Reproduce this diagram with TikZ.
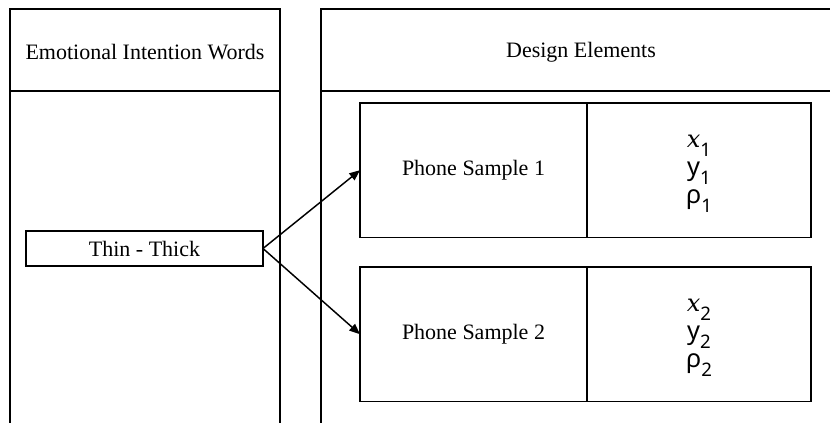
\documentclass[tikz,border=0pt]{standalone}
\usepackage{fontspec}
\setmainfont{Liberation Serif}
\newfontfamily\elemfont{Noto Sans}
\newfontfamily\elemitfont{DejaVu Serif Italic}
\usetikzlibrary{arrows.meta,positioning}

% lowered index after a design variable
\newcommand{\elemsub}[1]{\raisebox{-6.5pt}{\fontsize{14}{14}\selectfont\elemfont #1}}
% the three variables of one phone sample
\newcommand{\elemlist}[1]{\rule{0pt}{15pt}{\fontsize{18}{18}\selectfont\elemitfont x}\elemsub{#1}\\
  {\elemfont y}\elemsub{#1}\\
  {\elemfont ρ}\elemsub{#1}}

\begin{document}
\begin{tikzpicture}[x=0.75pt,y=0.75pt,yscale=-1,xscale=1,
  frame/.style={line width=1.1pt},
  txt/.style={inner sep=0pt,font=\fontsize{16.5}{20}\selectfont},
  wordbox/.style={draw,line width=1.1pt,inner sep=0pt,outer sep=0pt,
    minimum width=177.75pt,minimum height=26.25pt,font=\fontsize{16.5}{20}\selectfont},
  samplebox/.style={draw,line width=1.1pt,inner sep=0pt,outer sep=0pt,
    minimum width=170.25pt,minimum height=100.9pt,font=\fontsize{16.5}{20}\selectfont},
  elembox/.style={draw,line width=1.1pt,inner sep=0pt,outer sep=0pt,
    minimum width=168pt,minimum height=100.9pt,align=center,
    font=\fontsize{19}{21}\selectfont\elemfont},
  link/.style={line width=1.1pt,-{Triangle[length=8pt,width=6.5pt]}}]
\useasboundingbox (0,0) rectangle (830,423);

%Table: left column
\draw[frame] (10,423) -- (10,9) -- (280,9) -- (280,423);
\draw[frame] (10,91) -- (280,91);
%Table: right column
\draw[frame] (321,423) -- (321,9) -- (830,9);
\draw[frame] (321,91) -- (830,91);

% Column heads
\node[txt] (wordhead) at (145,52) {Emotional Intention Words};
\node[txt] (designhead) at (581,52) {Design Elements};

% Word pair
\node[wordbox] (thinthick) at (144.5,248.5) {Thin - Thick};

% Samples with their variables
\node[samplebox] (sample1) at (473.5,170.2) {Phone Sample 1};
\node[elembox,right=0pt of sample1] (elems1) {\elemlist{1}};
\node[samplebox] (sample2) at (473.5,334.2) {Phone Sample 2};
\node[elembox,right=0pt of sample2] (elems2) {\elemlist{2}};

% Arrows
\draw[link] (thinthick.east) -- (sample1.west);
\draw[link] (thinthick.east) -- (sample2.west);
\end{tikzpicture}
\end{document}
